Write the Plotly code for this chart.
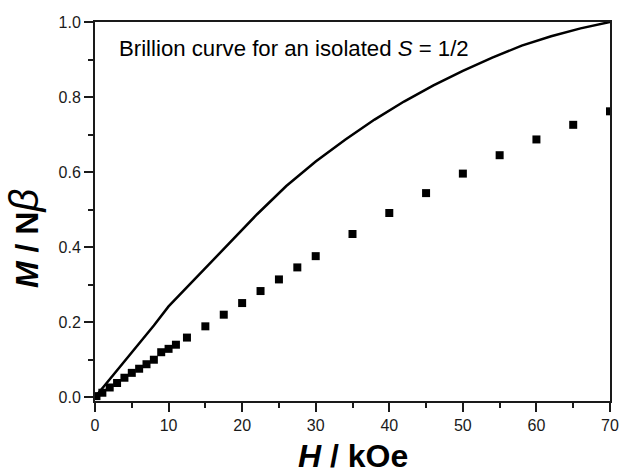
import plotly.graph_objects as go

# Brillouin curve
curve_h = [0, 2, 4, 6, 8, 10, 14, 18, 22, 26, 30, 34, 38, 42, 46, 50, 54, 58, 62, 66, 70]
curve_m = [0, 0.047, 0.095, 0.143, 0.191, 0.242, 0.323, 0.405, 0.487, 0.563, 0.628,
           0.686, 0.740, 0.788, 0.831, 0.870, 0.905, 0.937, 0.962, 0.983, 1.0]

# Experimental points
exp_h = [0.2, 1, 2, 3, 4, 5, 6, 7, 8, 9, 10, 11, 12.5, 15, 17.5, 20, 22.5, 25,
         27.5, 30, 35, 40, 45, 50, 55, 60, 65, 70]
exp_m = [0.003, 0.012, 0.026, 0.038, 0.052, 0.065, 0.076, 0.088, 0.100, 0.120,
         0.129, 0.140, 0.159, 0.189, 0.220, 0.251, 0.283, 0.314, 0.346, 0.376,
         0.435, 0.491, 0.544, 0.596, 0.645, 0.687, 0.726, 0.762]

x_ticks = [0, 10, 20, 30, 40, 50, 60, 70]
y_ticks = [0.0, 0.2, 0.4, 0.6, 0.8, 1.0]
y_tick_labels = ["0.0", "0.2", "0.4", "0.6", "0.8", "1.0"]

fig = go.Figure()
fig.add_trace(go.Scatter(x=curve_h, y=curve_m, mode="lines",
                         line=dict(color="black", width=2.5), showlegend=False))
fig.add_trace(go.Scatter(x=exp_h, y=exp_m, mode="markers",
                         marker=dict(symbol="square", size=8, color="black"),
                         showlegend=False))

axis_common = dict(showgrid=False, zeroline=False, showline=True, linecolor="#1a1a1a",
                   linewidth=2, mirror=True, ticks="outside", ticklen=9, tickwidth=1.5,
                   tickcolor="#1a1a1a", automargin=False,
                   tickfont=dict(family="Arial, Liberation Sans, sans-serif", size=16,
                                 color="#1a1a1a"))

fig.update_xaxes(range=[0, 70], tickvals=x_ticks, ticktext=[str(v) for v in x_ticks],
                 minor=dict(dtick=5, ticklen=5, ticks="outside", tickwidth=1.5,
                            tickcolor="#1a1a1a", showgrid=False),
                 **axis_common)
fig.update_yaxes(range=[-0.01, 1.0], tickvals=y_ticks, ticktext=y_tick_labels,
                 minor=dict(dtick=0.1, tick0=0, ticklen=5, ticks="outside", tickwidth=1.5,
                            tickcolor="#1a1a1a", showgrid=False),
                 **axis_common)

fig.add_annotation(text="Brillion curve for an isolated <i>S</i> = 1/2",
                   xref="paper", yref="paper", x=0.0427, y=0.930,
                   xanchor="left", yanchor="middle", showarrow=False,
                   font=dict(family="Arial, Liberation Sans, sans-serif", size=22.2,
                             color="black"))
fig.add_annotation(text="<b><i>H</i> / kOe</b>",
                   xref="paper", yref="paper", x=0.501, y=-0.144,
                   xanchor="center", yanchor="middle", showarrow=False,
                   font=dict(family="Arial, Liberation Sans, sans-serif", size=32,
                             color="black"))
fig.add_annotation(text="<b><i>M</i> / N</b><i><span style='font-size:40px'>β</span></i>",
                   xref="paper", yref="paper", x=-0.138, y=0.430,
                   xanchor="center", yanchor="middle", showarrow=False, textangle=-90,
                   font=dict(family="Arial, Liberation Sans, sans-serif", size=32,
                             color="black"))

fig.update_layout(width=620, height=475, paper_bgcolor="white", plot_bgcolor="white",
                  margin=dict(l=95, r=10, t=22, b=74, autoexpand=False), showlegend=False)

fig.write_html("out.html", config={"displayModeBar": False},
               post_script="document.body.style.margin='0px';"
                           "document.body.style.overflow='hidden';")
